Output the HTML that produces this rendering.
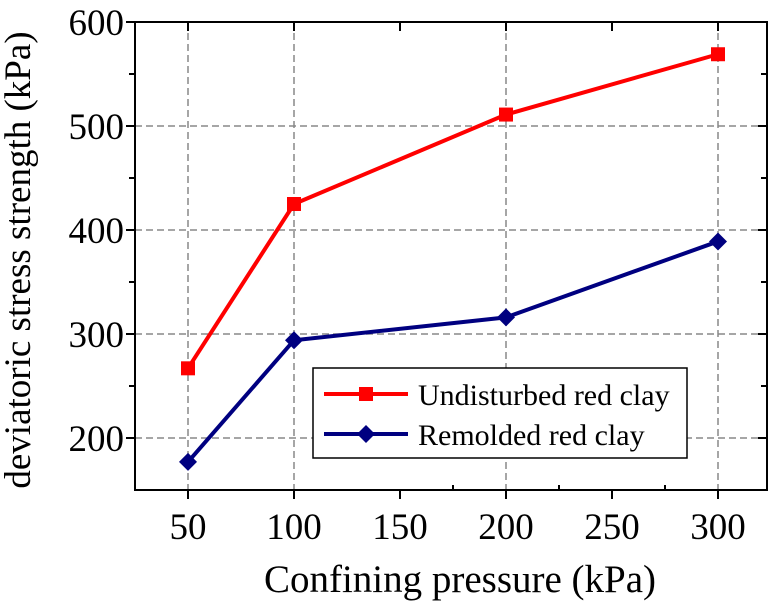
<!DOCTYPE html>
<html><head><meta charset="utf-8"><style>
body{margin:0;background:#fff;}
svg text{font-family:"Liberation Serif",serif;fill:#000;}
</style></head><body>
<svg width="769" height="603">
<g id="grid"></g>
<g id="axes"></g>
<g id="series"></g>
<text x="460" y="592" font-size="39" text-anchor="middle">Confining pressure (kPa)</text>
<text transform="translate(30,260) rotate(-90)" font-size="37" text-anchor="middle">deviatoric stress strength (kPa)</text>
<g>
<rect x="313" y="368" width="374" height="90" fill="#fff" stroke="#000" stroke-width="1.5"/>
<g>
<line x1="324" y1="394" x2="408" y2="394" stroke="#ff0000" stroke-width="4"/>
<rect x="359" y="387" width="14" height="14" fill="#ff0000"/>
<text x="418" y="405" font-size="30">Undisturbed red clay</text></g>
<g>
<line x1="324" y1="434" x2="408" y2="434" stroke="#000080" stroke-width="4"/>
<polygon points="366,425 375,434 366,443 357,434" fill="#000080"/>
<text x="418" y="445" font-size="30">Remolded red clay</text></g>
</g>
</svg>
<script>
const categories=[50,100,200,300];
const undisturbed=[267,425,511,569];
const remolded=[177,294,316,389];
const xTicks=[50,100,150,200,250,300];
const yTicks=[200,300,400,500,600];
const L=135,R=767,T=22,B=490;
const xs=v=>82+(v)*2.12;
const ys=v=>B-(v-150)*(B-T)/450;
const NS="http://www.w3.org/2000/svg";
function mk(p,t,a){const e=document.createElementNS(NS,t);for(const k in a)e.setAttribute(k,a[k]);p.appendChild(e);return e;}
const grid=document.getElementById('grid'),axes=document.getElementById('axes'),ser=document.getElementById('series');
[50,100,200,300].forEach(v=>{const g=mk(grid,'line',{x1:xs(v),x2:xs(v),y1:T,y2:B,stroke:'#888','stroke-width':1.5,'stroke-dasharray':'7,4'});

});
[200,300,400,500].forEach(v=>{const g=mk(grid,'line',{x1:L,x2:R,y1:ys(v),y2:ys(v),stroke:'#888','stroke-width':1.5,'stroke-dasharray':'7,4'});

});
mk(axes,'rect',{x:L,y:T,width:R-L,height:B-T,fill:'none',stroke:'#000','stroke-width':2});
xTicks.forEach(v=>{const x=xs(v);
mk(axes,'line',{x1:x,x2:x,y1:B,y2:B+9,stroke:'#000','stroke-width':2});
mk(axes,'line',{x1:x,x2:x,y1:T,y2:T+9,stroke:'#000','stroke-width':2});
const t=mk(axes,'text',{x:x,y:B+49,'font-size':37,'text-anchor':'middle'});t.textContent=v;

});
[175,225,275].forEach(v=>{const x=xs(v);mk(axes,'line',{x1:x,x2:x,y1:B,y2:B-5,stroke:'#000','stroke-width':2});});
yTicks.forEach(v=>{const y=ys(v);
mk(axes,'line',{x1:L-9,x2:L,y1:y,y2:y,stroke:'#000','stroke-width':2});
mk(axes,'line',{x1:R-9,x2:R,y1:y,y2:y,stroke:'#000','stroke-width':2});
const t=mk(axes,'text',{x:L-11,y:y+13,'font-size':37,'text-anchor':'end'});t.textContent=v;

});
[250,350,450,550].forEach(v=>{const y=ys(v);mk(axes,'line',{x1:L-6,x2:L,y1:y,y2:y,stroke:'#000','stroke-width':2});mk(axes,'line',{x1:R-6,x2:R,y1:y,y2:y,stroke:'#000','stroke-width':2});});
function draw(vals,color,shape,name){
const pl=mk(ser,'polyline',{points:vals.map((v,i)=>xs(categories[i])+','+ys(v)).join(' '),fill:'none',stroke:color,'stroke-width':4});


vals.forEach((v,i)=>{const x=xs(categories[i]),y=ys(v);let m;
if(shape==='sq')m=mk(ser,'rect',{x:x-7,y:y-7,width:14,height:14,fill:color});
else m=mk(ser,'polygon',{points:`${x},${y-9} ${x+9},${y} ${x},${y+9} ${x-9},${y}`,fill:color});

});}
draw(undisturbed,'#ff0000','sq','undisturbed');
draw(remolded,'#000080','di','remolded');
</script>
</body></html>
